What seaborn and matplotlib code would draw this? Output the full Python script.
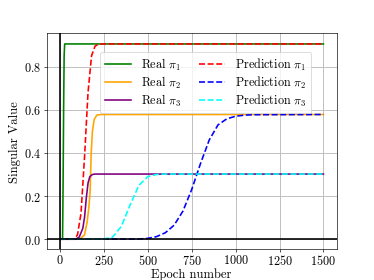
import matplotlib
matplotlib.use("Agg")
import matplotlib.pyplot as plt
import seaborn as sns
import pandas as pd

# values (epoch, singular value)
real1_epoch = [0, 15, 18, 21, 24, 27, 1500]
real1_value = [0.0, 0.0, 0.25, 0.6, 0.85, 0.905, 0.905]

real2_epoch = [0, 100, 120, 140, 155, 165, 172, 178, 185, 195, 210, 230, 1500]
real2_value = [0.0, 0.0, 0.005, 0.02, 0.08, 0.15, 0.22, 0.4, 0.5, 0.555, 0.575, 0.578, 0.578]

real3_epoch = [0, 90, 110, 130, 140, 150, 160, 170, 185, 200, 1500]
real3_value = [0.0, 0.0, 0.01, 0.05, 0.1, 0.19, 0.26, 0.29, 0.3, 0.302, 0.302]

pred1_epoch = [0, 80, 100, 120, 140, 160, 180, 200, 220, 250, 1500]
pred1_value = [0.0, 0.001, 0.02, 0.12, 0.38, 0.68, 0.85, 0.895, 0.904, 0.905, 0.905]

pred2_epoch = [0, 450, 500, 550, 600, 650, 700, 750, 800, 850, 900, 950, 1000, 1050, 1100, 1500]
pred2_value = [0.0, 0.001, 0.004, 0.012, 0.03, 0.065, 0.13, 0.23, 0.35, 0.46, 0.53, 0.558, 0.57, 0.575, 0.577, 0.578]

pred3_epoch = [0, 250, 300, 350, 400, 450, 500, 550, 600, 1500]
pred3_value = [0.0, 0.001, 0.01, 0.06, 0.16, 0.25, 0.29, 0.3, 0.302, 0.302]

series = [
    (real1_epoch, real1_value, r'Real $\pi_1$', 'green', '-'),
    (real2_epoch, real2_value, r'Real $\pi_2$', 'orange', '-'),
    (real3_epoch, real3_value, r'Real $\pi_3$', 'purple', '-'),
    (pred1_epoch, pred1_value, r'Prediction $\pi_1$', 'red', '--'),
    (pred2_epoch, pred2_value, r'Prediction $\pi_2$', 'blue', '--'),
    (pred3_epoch, pred3_value, r'Prediction $\pi_3$', 'cyan', '--'),
]

plt.rcParams['font.family'] = 'serif'
plt.rcParams['font.serif'] = ['cmr10', 'DejaVu Serif']
plt.rcParams['mathtext.fontset'] = 'cm'
plt.rcParams['axes.formatter.use_mathtext'] = True
plt.rcParams['axes.unicode_minus'] = False

fig, ax = plt.subplots(figsize=(6.4, 4.8))

for epochs, values, label, color, ls in series:
    df = pd.DataFrame({'Epoch': epochs, 'Value': values})
    sns.lineplot(data=df, x='Epoch', y='Value', ax=ax, color=color,
                 linestyle=ls, label=label, linewidth=2)

ax.axhline(0, color='black', linewidth=2)
ax.axvline(0, color='black', linewidth=2)

ax.set_xticks([0, 250, 500, 750, 1000, 1250, 1500])
ax.set_xlim(-75, 1575)
ax.set_ylim(-0.046, 0.955)
ax.grid(True, color='#c0c0c0', linewidth=1.2)
ax.set_axisbelow(True)

ax.set_xlabel('Epoch number', fontsize=15.5, labelpad=0)
ax.set_ylabel('Singular Value', fontsize=15.5)
ax.tick_params(labelsize=15)
ax.tick_params(axis='x', pad=2)

ax.legend(ncol=2, loc='upper right', bbox_to_anchor=(0.913, 0.915),
          borderaxespad=0, fontsize=15, handlelength=2.1,
          columnspacing=1.5, labelspacing=0.15)

plt.savefig('out.png', dpi=374 / 6.4)
plt.close()
